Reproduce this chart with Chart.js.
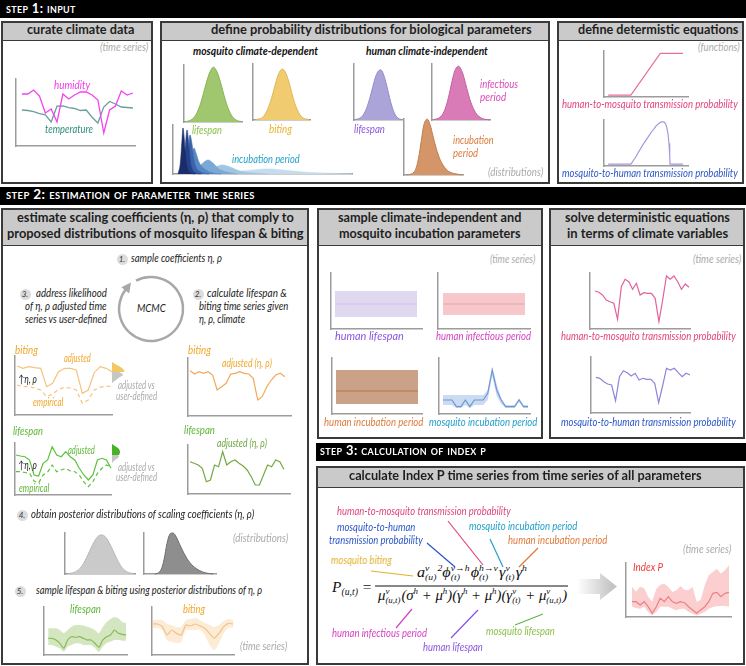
<!DOCTYPE html>
<html>
<head>
<meta charset="utf-8">
<title>Index P workflow</title>
<script src="https://cdn.jsdelivr.net/npm/chart.js@4.4.1/dist/chart.umd.min.js"></script>
<style>
  html, body { margin: 0; background: #fff; }
  #page { position: relative; width: 746px; height: 666px; overflow: hidden; font-family: Lato, "Open Sans", sans-serif; }
  .bar { position: absolute; background: #000; }
  .panel { position: absolute; box-sizing: border-box; border: 2px solid #3a3a3a; }
  .panel .head { position: absolute; left: 0; right: 0; top: 0; box-sizing: border-box; background: #cacaca; border-bottom: 1.5px solid #3a3a3a; }
  .t { position: absolute; white-space: nowrap; line-height: 1; transform-origin: 0 50%; }
  .step { color: #fff; font-weight: 700; font-variant: small-caps; font-size: 13px; letter-spacing: .4px; }
  .hd { color: #1e1e1e; font-weight: 700; font-size: 13.5px; }
  .it { font-style: italic; font-size: 11.5px; }
  .gray { font-style: italic; font-size: 10.5px; color: #ababab; }
  .num { font-style: italic; font-size: 11px; color: #222; }
  .bi { font-style: italic; font-weight: 700; font-size: 12px; color: #111; }
  .circ { position: absolute; width: 11px; height: 11px; border-radius: 50%; background: #dcdcdc; font: italic 8px Lato, sans-serif; color: #333; text-align: center; line-height: 11px; }
  .eq { position: absolute; white-space: nowrap; line-height: 1; font-family: "Liberation Serif", "DejaVu Serif", serif; font-style: italic; font-size: 15px; color: #111; transform-origin: 0 50%; }
  .ss { display: inline-flex; flex-direction: column; vertical-align: middle; font-size: 9px; line-height: 9.5px; margin-right: 1px; }
  .up { font-size: 9px; vertical-align: 6px; }
  .dn { font-size: 9.5px; vertical-align: -3px; }
  canvas { position: absolute; }
  svg { position: absolute; left: 0; top: 0; }
</style>
</head>
<body>
<div id="page">
  <div class="bar" style="left:0;top:0;width:746px;height:18px"></div>
  <div class="panel" style="left:1px;top:21px;width:152px;height:163px"><div class="head" style="height:18px"></div></div>
  <div class="panel" style="left:160px;top:21px;width:390px;height:163px"><div class="head" style="height:18px"></div></div>
  <div class="panel" style="left:557px;top:21px;width:187px;height:163px"><div class="head" style="height:18px"></div></div>
  <div class="bar" style="left:0;top:187px;width:746px;height:18px"></div>
  <div class="panel" style="left:1px;top:208px;width:308px;height:457px"><div class="head" style="height:36px"></div></div>
  <div class="panel" style="left:317px;top:208px;width:226px;height:231px"><div class="head" style="height:36px"></div></div>
  <div class="panel" style="left:549px;top:208px;width:196px;height:231px"><div class="head" style="height:36px"></div></div>
  <div class="bar" style="left:316px;top:443px;width:430px;height:18px"></div>
  <div class="panel" style="left:316px;top:466px;width:429px;height:199px"><div class="head" style="height:20px"></div></div>

  <svg width="746" height="666">
    <defs>
      <linearGradient id="fade" x1="577" x2="612" y1="0" y2="0" gradientUnits="userSpaceOnUse">
        <stop offset="0" stop-color="#fff"/>
        <stop offset="1" stop-color="#c4c4c4"/>
      </linearGradient>
    </defs>
    <!-- MCMC loop -->
    <path d="M136 280.7 A32 32 0 1 1 125.8 289.3" fill="none" stroke="#a8a8a8" stroke-width="2.5"/>
    <polygon points="131,282.5 129.2,293.4 121.4,287.2" fill="#a8a8a8"/>
    <!-- step 3 callouts -->
    <line x1="448" y1="521" x2="483" y2="565" stroke="#e0447f" stroke-width="1.2"/>
    <line x1="427" y1="543" x2="455" y2="567" stroke="#2b56c6" stroke-width="1.2"/>
    <line x1="490" y1="539" x2="503" y2="567" stroke="#23a0c8" stroke-width="1.2"/>
    <line x1="538" y1="548" x2="519" y2="567" stroke="#e07a3c" stroke-width="1.2"/>
    <line x1="371" y1="571" x2="413" y2="576" stroke="#e2b325" stroke-width="1.2"/>
    <line x1="396" y1="628" x2="412" y2="609" stroke="#d63fc2" stroke-width="1.2"/>
    <line x1="451" y1="638" x2="478" y2="610" stroke="#8a4fe0" stroke-width="1.2"/>
    <line x1="515" y1="625" x2="543" y2="614" stroke="#62b441" stroke-width="1.2"/>
    <line x1="375" y1="586" x2="568" y2="586" stroke="#111" stroke-width="1"/>
    <polygon points="577,579 600,579 600,573 617,586.5 600,600 600,594 577,594" fill="url(#fade)"/>
  </svg>

  <div class="eq" data-x="332" data-y="591" data-w="40"><span>P</span><span class="dn">(u,t)</span> =</div>
  <div class="eq" data-x="417" data-y="575" data-w="110">a<span class="ss"><span>v</span><span>(u)</span></span><span class="up">2</span>ϕ<span class="ss"><span>v→h</span><span>(t)</span></span>ϕ<span class="ss"><span>h→v</span><span>(t)</span></span>γ<span class="ss"><span>v</span><span>(t)</span></span>γ<span class="up">h</span></div>
  <div class="eq" data-x="378" data-y="598" data-w="189">μ<span class="ss"><span>v</span><span>(u,t)</span></span>(σ<span class="up">h</span> + μ<span class="up">h</span>)(γ<span class="up">h</span> + μ<span class="up">h</span>)(γ<span class="ss"><span>v</span><span>(t)</span></span> + μ<span class="ss"><span>v</span><span>(u,t)</span></span>)</div>
</div>

<script>
// ---- step 1: climate input ----
const humidity = [52, 52, 56, 50, 33, 37, 24, 52, 47, 51, 54, 54, 51, 46, 13, 36, 40, 55, 51, 53];
const temperature = [36, 35.5, 34.3, 32.4, 31.2, 24, 39.8, 40.2, 38.4, 37.5, 35.5, 36, 28.8, 23, 39, 44.5, 42, 39, 38.5, 38];

// ---- step 1: user-defined distributions (relative density) ----
const mosqLifespanDist = [1, 2, 5, 11, 22, 38, 58, 78, 93, 100, 93, 78, 58, 38, 22, 11, 5, 2, 1];
const mosqBitingDist = [1, 2, 4, 10, 21, 37, 57, 78, 94, 100, 94, 79, 58, 37, 21, 10, 4, 2, 1];
const humanLifespanDist = [1, 2, 4, 9, 18, 32, 50, 70, 88, 98, 100, 90, 72, 50, 30, 15, 6, 2, 1];
const humanInfectiousDist = [1, 2, 5, 12, 26, 48, 74, 94, 100, 92, 74, 52, 33, 19, 10, 5, 2, 1, 0];
const humanIncubationDist = [0, 1, 3, 10, 30, 62, 92, 100, 90, 70, 50, 34, 22, 14, 8, 5, 3, 2, 1, 0];
// mosquito incubation: one curve per temperature class, [day, density]
const mosqIncubationDists = [
  [[5, 0], [7, 8], [9, 34], [10, 46], [11, 38], [13, 14], [15, 4], [18, 1], [22, 0]],
  [[8, 0], [11, 12], [13, 36], [14, 44], [15, 38], [17, 16], [19, 5], [23, 1], [28, 0]],
  [[11, 0], [14, 10], [16, 30], [17, 39], [19, 30], [21, 14], [24, 5], [30, 1], [36, 0]],
  [[14, 0], [17, 8], [19, 20], [21, 26], [23, 21], [27, 10], [33, 4], [40, 1], [48, 0]],
  [[18, 0], [24, 5], [30, 11], [35, 14], [40, 11], [46, 5], [54, 2], [64, 0]],
  [[25, 0], [35, 4], [45, 8], [50, 9], [57, 7], [67, 3], [80, 1], [95, 0]],
  [[40, 0], [60, 2], [80, 4], [95, 5], [110, 4], [130, 2], [150, 1], [179, 0]]
];
const incubationColors = ["#1b2c69", "#24428c", "#3a63a9", "#5588c2", "#7aa9d6", "#a2c5e4", "#c5dcef"];

// ---- step 1: deterministic functions (climate value, probability) ----
const humToMosqX = [5, 32, 67, 94];
const humToMosqY = [0.04, 0.04, 0.95, 0.95];
const mosqToHumX = [5, 32, 35, 38, 41, 45, 48, 51, 54, 57, 60, 62, 65, 67, 69, 71, 73, 74.6, 76.2, 77.4, 78.2, 78.6, 94];
const mosqToHumY = [0.04, 0.04, 0.12, 0.2, 0.3, 0.42, 0.51, 0.59, 0.67, 0.75, 0.82, 0.87, 0.92, 0.95, 0.96, 0.96, 0.93, 0.85, 0.7, 0.49, 0.24, 0.04, 0.04];

// ---- step 2: MCMC scaling ----
const bitingAdjusted = [49, 46.7, 48.3, 47.3, 46.7, 28.3, 31.7, 43.3, 46.7, 46.7, 45, 21.7, 25, 42.3, 48.3, 46.7, 43.3];
const bitingEmpirical = [30, 28.5, 28.3, 27, 25, 18.3, 21, 25.7, 27.7, 27, 25, 11.7, 15, 25, 27.7, 29, 28.3];
const bitingFit = [45.3, 42, 44.3, 42.7, 44.3, 41, 26, 29.3, 32.7, 42, 42.7, 44.3, 42.7, 42, 37.7, 16, 19.3, 29.3, 36, 41, 42.7, 39.3];
const lifespanAdjusted = [40, 39, 38.3, 35, 20, 19, 31.7, 35, 48.3, 40, 38.3, 43.3, 38.3, 35, 26.7, 20, 15, 20, 35, 36.7, 35, 26.7];
const lifespanEmpirical = [23.3, 23.3, 22.5, 21.7, 14, 12, 20, 23, 30, 23.3, 25, 26.7, 24, 23.3, 20, 13, 8.3, 13.3, 21.7, 26.7, 30, 28.3];
const lifespanFit = [32.3, 30.7, 29, 25.7, 12.3, 14, 29, 27.3, 42.3, 29, 32.3, 34, 30.7, 28, 24, 17.3, 9, 9, 19, 29, 27.3, 34, 32.3, 24.7];
// sideways likelihood sketches: [position, width]
const bitingAdjDensity = [[4, 0], [6, 3], [8, 7], [10, 10], [12, 12], [13, 12.5], [14, 12]];
const bitingUserDensity = [[11, 0], [13, 4], [15, 9], [17, 11], [19, 8], [22, 4], [25, 0]];
const lifespanAdjDensity = [[2, 0], [4, 3], [6, 6], [8, 7.5], [10, 8], [12, 7.5], [13, 7]];
const lifespanUserDensity = [[9, 0], [12, 4], [14, 7], [16, 6], [18, 3], [21, 0]];
// posterior distributions of eta and rho
const etaPosterior = [1, 2, 4, 8, 15, 26, 41, 58, 75, 89, 98, 100, 96, 85, 70, 53, 36, 22, 12, 6, 3, 1];
const rhoPosterior = [0, 2, 10, 35, 75, 98, 100, 90, 74, 58, 44, 32, 23, 16, 11, 7, 4, 2, 1, 0];
// sampled series with uncertainty
const lifespanSample = [16.7, 16.7, 15, 11.7, 6.7, 15, 18.3, 17.7, 18.3, 16.7, 15, 15, 11.7, 7.7, 15, 18.3, 20, 25, 21.7, 20.7, 20];
const lifespanUpper = [26.7, 26.7, 26.7, 25, 21.7, 25, 28.3, 30, 30, 29.5, 28.3, 27, 25, 21.7, 28, 33, 36, 38, 36.7, 33, 31.7];
const lifespanLower = [10, 10, 8.3, 6.7, 3.3, 8.3, 10, 11.7, 11.7, 10, 10, 10, 7, 3, 8.3, 12, 13.3, 15, 15, 14.3, 14.3];
const bitingSample = [31, 31, 28.3, 20, 25, 21.7, 20, 30, 29, 31, 29, 26.7, 21.7, 16.7, 21.7, 28.3, 31.7, 31];
const bitingUpper = [35, 35, 35, 31, 30, 28, 28, 35, 36, 37, 35, 32, 30, 28, 30, 34, 36, 35];
const bitingLower = [27, 27, 25, 15, 13, 12, 13, 25, 25, 25, 25, 20, 10, 5, 12, 22, 27, 27];

// ---- step 2: climate-independent samples ----
const humanLifespanMid = [25, 25, 25, 25, 25, 25, 25, 25, 25, 25, 25, 25];
const humanLifespanHi = [38, 38, 38, 38, 38, 38, 38, 38, 38, 38, 38, 38];
const humanLifespanLo = [12, 12, 12, 12, 12, 12, 12, 12, 12, 12, 12, 12];
const humanInfMid = [25, 25, 25, 25, 25, 25, 25, 25, 25, 25, 25, 25];
const humanInfHi = [36, 36, 36, 36, 36, 36, 36, 36, 36, 36, 36, 36];
const humanInfLo = [14, 14, 14, 14, 14, 14, 14, 14, 14, 14, 14, 14];
const humanIncMid = [23, 23, 23, 23, 23, 23, 23, 23, 23, 23, 23, 23];
const humanIncHi = [44, 44, 44, 44, 44, 44, 44, 44, 44, 44, 44, 44];
const humanIncLo = [10, 10, 10, 10, 10, 10, 10, 10, 10, 10, 10, 10];
const mosqIncMid = [14, 14, 14, 7.3, 7.3, 14, 7.3, 14, 14, 14, 20.7, 44, 24, 14, 7.3, 7.3, 7.3, 14, 7.3, 7.3];
const mosqIncHi = [19, 19, 19, 19, 19, 19, 19, 19, 19, 19, 24, 47, 30, 16, 9, 9, 9, 16, 9, 9];
const mosqIncLo = [9, 9, 9, 6, 6, 9, 6, 9, 9, 9, 14, 38, 18, 10, 6, 6, 6, 12, 6, 6];

// ---- step 2: deterministic equations over time ----
const humToMosqSeries = [38, 36.7, 34, 29, 27.3, 25.7, 9.7, 42.3, 49.7, 47.3, 39.7, 45.7, 34, 36.3, 35.7, 35.7, 30.7, 7.3, 29, 53, 49.7, 53, 47.3, 39.7, 45, 41.7];
const mosqToHumSeries = [35.7, 34.7, 31.3, 29, 28, 12.3, 36.3, 42.3, 40.3, 37, 39.7, 33, 34.7, 33.7, 33.7, 29.7, 10.3, 27, 44.7, 43, 44.7, 40.3, 36.3, 39.7, 38];

// ---- step 3: Index P ----
const indexP = [15.3, 15.3, 12, 15.3, 10.3, 3.7, 10.3, 18.7, 15.3, 20.3, 15.3, 13.7, 15.3, 14.3, 10.3, 7, 3.7, 7, 10.3, 15.3, 23.7, 24.7, 20.3, 23.7, 24.7];
const indexPUpper = [30.3, 25.3, 30.3, 28.7, 20.3, 15.3, 28, 32.3, 33.3, 30, 25, 26.7, 31, 27, 27, 30, 15.3, 17, 31.7, 41.7, 45, 48.3, 43.3, 46.7, 51.7];
const indexPLower = [10.3, 9, 8.3, 10.3, 5, 1.7, 5, 10.3, 10.3, 10.3, 8.3, 6.7, 8.3, 8.3, 5, 3.3, 1.7, 3.3, 5, 8.3, 10, 10.7, 11, 11, 10.3];

const page = document.getElementById("page");
const pts = arr => arr.map((v, i) => ({ x: i, y: v }));
const pairs = arr => arr.map(p => ({ x: p[0], y: p[1] }));
const zip = (xs, ys) => xs.map((x, i) => ({ x, y: ys[i] }));

function mini(box, datasets, o) {
  const pad = 3;
  const c = document.createElement("canvas");
  c.width = box[2] + pad * 2;
  c.height = box[3] + pad * 2;
  c.style.left = (box[0] - pad) + "px";
  c.style.top = (box[1] - pad) + "px";
  page.appendChild(c);
  let xmin = o.xmin, xmax = o.xmax;
  if (o.xr) {
    const n = o.n || datasets[0].data.length;
    const span = (n - 1) / (o.xr[1] - o.xr[0]);
    xmin = -o.xr[0] * span;
    xmax = xmin + span;
  }
  const show = o.axes !== false;
  const axis = {
    type: "linear", display: show,
    ticks: { display: false },
    grid: { display: false, drawTicks: false },
    border: { display: show, color: "#9c9c9c", width: 1.5 }
  };
  datasets.forEach(d => { d.clip = 8; if (d.pointRadius === undefined) d.pointRadius = 0; });
  new Chart(c, {
    type: "line",
    data: { datasets },
    options: {
      responsive: false,
      animation: false,
      events: [],
      indexAxis: o.indexAxis || "x",
      layout: { padding: pad },
      plugins: { legend: { display: false }, tooltip: { enabled: false } },
      scales: {
        x: { ...axis, min: xmin, max: xmax },
        y: { ...axis, min: o.ymin || 0, max: o.ymax, reverse: !!o.yrev }
      }
    }
  });
}

const line = (arr, color, extra) => Object.assign({ data: pts(arr), borderColor: color, borderWidth: 1.2, fill: false, tension: 0 }, extra);
const dist = (arr, fillC, lineC) => ({ data: pts(arr), fill: "origin", backgroundColor: fillC, borderColor: lineC, borderWidth: 1, tension: 0.4 });
const band = (mid, hi, lo, lineC, bandC, tension) => [
  { data: pts(mid), borderColor: lineC, borderWidth: 1.2, fill: false, tension },
  { data: pts(hi), borderWidth: 0, borderColor: "rgba(0,0,0,0)", backgroundColor: bandC, fill: "+1", tension },
  { data: pts(lo), borderWidth: 0, borderColor: "rgba(0,0,0,0)", fill: false, tension }
];
const side = (arr, fillC) => ({ data: arr.map(p => ({ y: p[0], x: p[1] })), fill: "origin", backgroundColor: fillC, borderWidth: 0, tension: 0.4 });

// step 1
mini([16, 79, 119, 67], [line(humidity, "#f441ef", { borderWidth: 1.3 }), line(temperature, "#6b9f9b", { borderWidth: 1.3 })], { xr: [0.05, 0.983], ymax: 67 });
mini([184, 65, 58, 57], [dist(mosqLifespanDist, "#a0c76d", "#86b353")], { xr: [0.034, 0.983], ymax: 104 });
mini([253, 64, 57, 56], [dist(mosqBitingDist, "#f0cb70", "#e2b552")], { xr: [0.05, 0.98], ymax: 110 });
mini([354, 64, 48, 56], [dist(humanLifespanDist, "#aba4d8", "#938bc9")], { xr: [0.02, 1.0], ymax: 112 });
mini([432, 64, 58, 56], [dist(humanInfectiousDist, "#d97bb6", "#c65ea3")], { xr: [0.03, 0.99], ymax: 104 });
mini([404, 119, 59, 56], [dist(humanIncubationDist, "#d49668", "#c17c4c")], { xr: [0.05, 0.98], ymax: 100 });
mini([173, 125, 179, 49], mosqIncubationDists.map((d, i) => ({
  data: pairs(d), fill: "origin", backgroundColor: incubationColors[i], borderColor: incubationColors[i], borderWidth: 0.6, tension: 0.4
})), { xmin: 0, xmax: 179, ymax: 49 });
mini([604, 51, 84, 46], [{ data: zip(humToMosqX, humToMosqY), borderColor: "#e86f9f", borderWidth: 1.2, fill: false, tension: 0 }], { xmin: 0, xmax: 100, ymax: 1 });
mini([604, 120, 84, 46], [{ data: zip(mosqToHumX, mosqToHumY), borderColor: "#a597dc", borderWidth: 1.2, fill: false, tension: 0 }], { xmin: 0, xmax: 100, ymax: 1 });

// step 2, left panel
mini([15, 356, 97, 59], [
  line(bitingAdjusted, "#f6c37d"),
  line(bitingEmpirical, "#f6c37d", { borderDash: [4, 3] })
], { xr: [0.02, 1.0], ymax: 59 });
mini([112, 358, 14, 28], [side(bitingAdjDensity, "#f2c766"), side(bitingUserDensity, "#c6c6c6")], { axes: false, indexAxis: "y", xmin: 0, xmax: 14, ymax: 28, yrev: true });
mini([188, 358, 103, 58], [line(bitingFit, "#f0a958")], { xr: [0.02, 0.94], ymax: 58 });
mini([15, 443, 96, 52], [
  line(lifespanAdjusted, "#5dc13c"),
  line(lifespanEmpirical, "#5dc13c", { borderDash: [4, 3] })
], { xr: [0.01, 1.0], ymax: 52 });
mini([112, 442, 10, 24], [side(lifespanAdjDensity, "#49b02a"), side(lifespanUserDensity, "#c6c6c6")], { axes: false, indexAxis: "y", xmin: 0, xmax: 10, ymax: 24, yrev: true });
mini([188, 445, 102, 49], [line(lifespanFit, "#74a845")], { xr: [0.02, 0.94], ymax: 49 });
mini([65, 533, 70, 41], [dist(etaPosterior, "#cacaca", "#b8b8b8")], { xr: [0.04, 0.97], ymax: 105 });
mini([144, 533, 72, 41], [dist(rhoPosterior, "#8e8e8e", "#6e6e6e")], { xr: [0.15, 0.96], ymax: 100 });
mini([44, 607, 83, 48], band(lifespanSample, lifespanUpper, lifespanLower, "#88ba56", "rgba(170,205,130,0.5)", 0.2), { xr: [0.05, 0.99], ymax: 48 });
mini([152, 607, 82, 48], band(bitingSample, bitingUpper, bitingLower, "#f3c28c", "rgba(248,205,150,0.4)", 0.2), { xr: [0.01, 0.99], ymax: 48 });

// step 2, middle panel
mini([331, 273, 91, 56], band(humanLifespanMid, humanLifespanHi, humanLifespanLo, "#cdbfe3", "#e0d8ee", 0), { xr: [0.044, 0.945], ymax: 56 });
mini([438, 273, 92, 56], band(humanInfMid, humanInfHi, humanInfLo, "#eba2aa", "#f6c8cc", 0), { xr: [0.054, 0.946], ymax: 56 });
mini([332, 358, 90, 56], band(humanIncMid, humanIncHi, humanIncLo, "#b8744c", "#cba288", 0), { xr: [0.044, 0.956], ymax: 56 });
mini([439, 358, 91, 56], band(mosqIncMid, mosqIncHi, mosqIncLo, "#6f97d6", "rgba(160,190,232,0.55)", 0), { xr: [0.044, 0.978], ymax: 56 });

// step 2, right panel
mini([590, 273, 100, 56], [line(humToMosqSeries, "#e2619c")], { xr: [0.05, 0.99], ymax: 56 });
mini([591, 357, 99, 56], [line(mosqToHumSeries, "#8e86d8")], { xr: [0.05, 1.0], ymax: 56 });

// step 3
mini([626, 563, 105, 54], band(indexP, indexPUpper, indexPLower, "#f08080", "rgba(248,160,160,0.5)", 0), { xr: [0.057, 0.981], ymax: 54 });

// ---- text ----
const green = "#8cc04c", yellow = "#e6b52e", purple = "#8a56e0", pink = "#d84bb8", orange = "#dc7a3c";
const h2m = "#e0447f", m2h = "#2b56c6", teal = "#23a0c8", bite = "#f0a62a", life = "#5db536", life2 = "#6aa43e";
const notes = [
  [6, 9.5, 70, "step 1: input", "step"],
  [6, 196, 249, "step 2: estimation of parameter time series", "step"],
  [320, 452, 166, "step 3: calculation of index p", "step"],
  [27, 31, 107, "curate climate data", "hd"],
  [211, 31, 321, "define probability distributions for biological parameters", "hd"],
  [578, 31, 160, "define determistic equations", "hd"],
  [17, 219, 277, "estimate scaling coefficients (η, ρ) that comply to", "hd"],
  [7, 235, 297, "proposed distributions of mosquito lifespan & biting", "hd"],
  [338, 219, 183, "sample climate-independent and", "hd"],
  [339, 235, 182, "mosquito incubation parameters", "hd"],
  [565, 219, 165, "solve deterministic equations", "hd"],
  [567, 235, 161, "in terms of climate variables", "hd"],
  [349, 477, 353, "calculate Index P time series from time series of all parameters", "hd"],

  [100, 49, 48, "(time series)", "gray"],
  [54, 86, 36, "humidity", "it", "#f03ce6"],
  [45, 130, 48, "temperature", "it", "#2e8c7b"],
  [193, 52, 125, "mosquito climate-dependent", "bi"],
  [366, 52, 122, "human climate-independent", "bi"],
  [192, 131, 30, "lifespan", "it", green],
  [269, 130, 23, "biting", "it", yellow],
  [354, 130, 31, "lifespan", "it", purple],
  [480, 85, 38, "infectious", "it", pink],
  [480, 98, 26, "period", "it", pink],
  [453, 141, 41, "incubation", "it", orange],
  [453, 154, 25, "period", "it", orange],
  [232, 160, 68, "incubation period", "it", teal],
  [488, 174, 55, "(distributions)", "gray"],
  [698, 49, 42, "(functions)", "gray"],
  [562, 105, 176, "human-to-mosquito transmission probability", "it", h2m],
  [562, 174, 176, "mosquito-to-human transmission probability", "it", m2h],

  [131, 259, 91, "sample coefficients η, ρ", "num"],
  [207, 294, 80, "calculate lifespan &", "num"],
  [199, 307, 89, "biting time series given", "num"],
  [199, 320, 46, "η, ρ, climate", "num"],
  [36, 294, 71, "address likelihood", "num"],
  [25, 307, 82, "of η, ρ adjusted time", "num"],
  [25, 320, 82, "series vs user-defined", "num"],
  [137, 309, 29, "MCMC", "num"],
  [15, 351, 23, "biting", "it", bite],
  [188, 351, 23, "biting", "it", bite],
  [64, 359, 27, "adjusted", "it", bite],
  [18, 380, 19, "↑η, ρ", "num"],
  [33, 403, 30, "empirical", "it", bite],
  [118, 387, 37, "adjusted vs", "gray"],
  [116, 398, 41, "user-defined", "gray"],
  [222, 364, 50, "adjusted (η, ρ)", "it", bite],
  [13, 432, 30, "lifespan", "it", life],
  [184, 431, 31, "lifespan", "it", life],
  [68, 451, 27, "adjusted", "it", life],
  [18, 466, 19, "↑η, ρ", "num"],
  [19, 489, 30, "empirical", "it", life],
  [118, 469, 37, "adjusted vs", "gray"],
  [116, 479, 41, "user-defined", "gray"],
  [217, 444, 50, "adjusted (η, ρ)", "it", life2],
  [31, 515, 223, "obtain posterior distributions of scaling coefficients (η, ρ)", "num"],
  [233, 540, 55, "(distributions)", "gray"],
  [36, 591, 226, "sample lifespan & biting using posterior distributions of η, ρ", "num"],
  [70, 610, 31, "lifespan", "it", life],
  [183, 610, 22, "biting", "it", bite],
  [240, 648, 47, "(time series)", "gray"],

  [490, 261, 45, "(time series)", "gray"],
  [335, 337, 69, "human lifespan", "it", purple],
  [436, 337, 95, "human infectious period", "it", "#d33fc2"],
  [324, 423, 99, "human incubation period", "it", orange],
  [429, 423, 108, "mosquito incubation period", "it", teal],
  [693, 261, 48, "(time series)", "gray"],
  [561, 337, 175, "human-to-mosquito transmission probability", "it", h2m],
  [561, 423, 175, "mosquito-to-human transmission probability", "it", m2h],

  [337, 512, 174, "human-to-mosquito transmission probability", "it", h2m],
  [337, 528, 78, "mosquito-to-human", "it", m2h],
  [329, 541, 94, "transmission probability", "it", m2h],
  [469, 527, 108, "mosquito incubation period", "it", teal],
  [508, 541, 99, "human incubation period", "it", orange],
  [331, 561, 61, "mosquito biting", "it", yellow],
  [683, 551, 48, "(time series)", "gray"],
  [332, 634, 95, "human infectious period", "it", "#d33fc2"],
  [423, 648, 60, "human lifespan", "it", purple],
  [486, 632, 69, "mosquito lifespan", "it", green],
  [633, 568, 30, "Index P", "it", "#ef3b3b"]
];
const steps = [[122, 259, "1."], [198, 294, "2."], [25, 294, "3."], [22, 515, "4."], [20, 591, "5."]];

steps.forEach(([x, y, s]) => {
  const el = document.createElement("div");
  el.className = "circ";
  el.textContent = s;
  el.style.left = (x - 5.5) + "px";
  el.style.top = (y - 5.5) + "px";
  page.appendChild(el);
});

const placed = [];
notes.forEach(([x, y, w, text, cls, color]) => {
  const el = document.createElement("div");
  el.className = "t " + cls;
  el.textContent = text;
  if (color) el.style.color = color;
  el.style.left = x + "px";
  page.appendChild(el);
  placed.push([el, y, w]);
});
document.querySelectorAll(".eq").forEach(el => {
  el.style.left = el.dataset.x + "px";
  placed.push([el, +el.dataset.y, +el.dataset.w]);
});

function fit() {
  placed.forEach(([el, y, w]) => {
    el.style.transform = "none";
    const h = el.offsetHeight;
    el.style.top = (y - h * 0.6) + "px";
    el.style.transform = `scaleX(${w / el.offsetWidth})`;
  });
}
fit();
if (document.fonts) document.fonts.ready.then(fit);
</script>
</body>
</html>
